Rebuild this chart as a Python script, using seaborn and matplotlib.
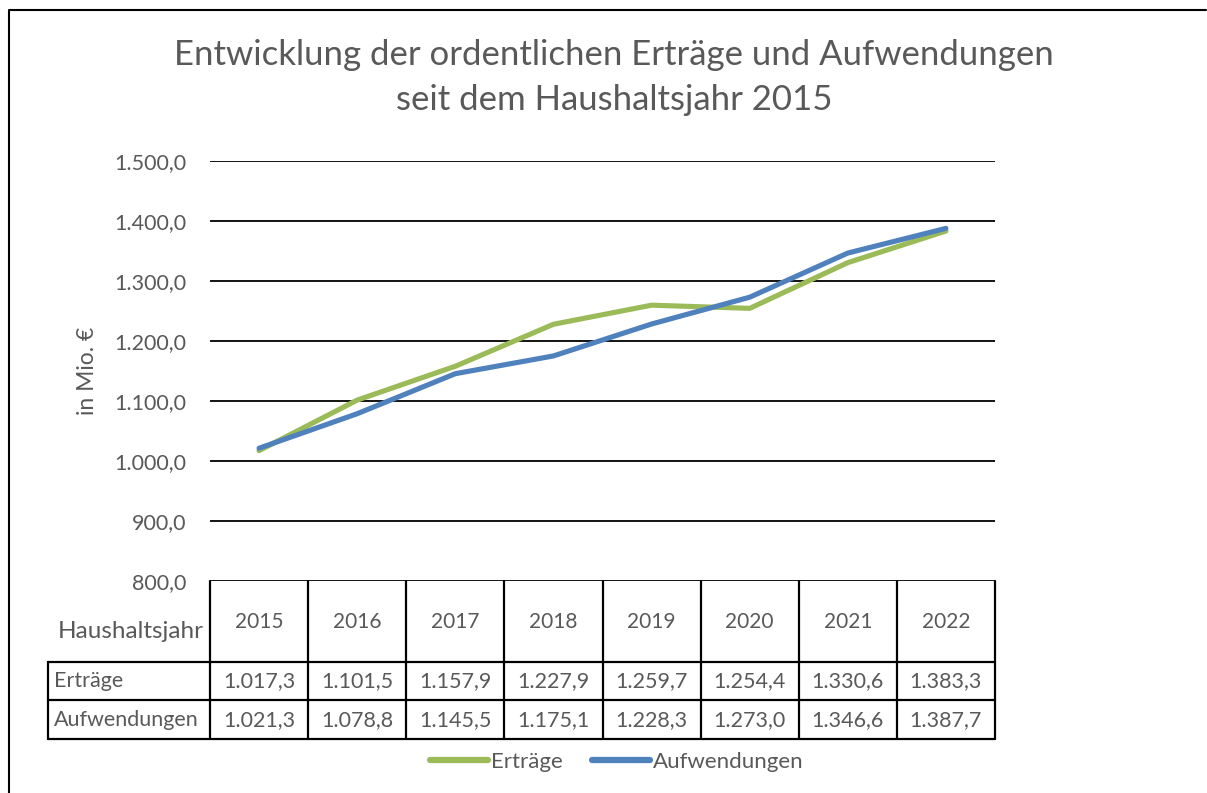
import pandas as pd
import matplotlib.pyplot as plt
import seaborn as sns
from matplotlib.lines import Line2D
from matplotlib.transforms import blended_transform_factory

years = ["2015", "2016", "2017", "2018", "2019", "2020", "2021", "2022"]
ertraege = [1017.3, 1101.5, 1157.9, 1227.9, 1259.7, 1254.4, 1330.6, 1383.3]
aufwendungen = [1021.3, 1078.8, 1145.5, 1175.1, 1228.3, 1273.0, 1346.6, 1387.7]
series_names = ["Erträge", "Aufwendungen"]
series_colors = {"Erträge": "#9BBB59", "Aufwendungen": "#4F81BD"}
y_ticks = [800, 900, 1000, 1100, 1200, 1300, 1400, 1500]

TEXT = "#595959"
W, H = 1207, 793
FS = 15.5


def de_fmt(v):
    # German number format: 1.017,3
    return f"{v:,.1f}".replace(",", "X").replace(".", ",").replace("X", ".")


sns.set_theme(style="white")
plt.rcParams['font.family'] = ['Lato', 'DejaVu Sans']

# long format for seaborn
df = pd.DataFrame({
    "pos": list(range(len(years))) * 2,
    "Wert": ertraege + aufwendungen,
    "Reihe": [series_names[0]] * len(years) + [series_names[1]] * len(years),
})

fig = plt.figure(figsize=(W / 100, H / 100), dpi=100)
ax = fig.add_axes([210 / W, 1 - 581 / H, (995 - 210) / W, (581 - 161) / H])

sns.lineplot(data=df, x="pos", y="Wert", hue="Reihe", hue_order=series_names,
             palette=series_colors, linewidth=3.7, ax=ax, legend=False)
for ln in ax.get_lines():
    ln.set_solid_capstyle("round")

ax.set_xlim(-0.5, len(years) - 0.5)
ax.set_ylim(y_ticks[0], y_ticks[-1])
ax.set_yticks(y_ticks)
ax.set_yticklabels([de_fmt(t) for t in y_ticks], color=TEXT, fontsize=FS)
ax.tick_params(axis="y", length=0, pad=17)
ax.set_xticks([])
ax.set_xlabel("")
ax.set_ylabel("in Mio. €", color=TEXT, fontsize=16.5, labelpad=12)
for t in y_ticks:
    ax.axhline(t, color="black", lw=1.3, zorder=0)
for s in ax.spines.values():
    s.set_visible(False)

# title
fig.text(614 / W, 1 - 55 / H, "Entwicklung der ordentlichen Erträge und Aufwendungen",
         ha="center", va="center", fontsize=25, color=TEXT)
fig.text(614 / W, 1 - 100 / H, "seit dem Haushaltsjahr 2015",
         ha="center", va="center", fontsize=25, color=TEXT)

# data table below the axis
tr = blended_transform_factory(ax.transData, fig.transFigure)
fy = lambda px: 1 - px / H
x_left = -0.5 - (210 - 48) / ((995 - 210) / len(years))
x_right = len(years) - 0.5
line_kw = dict(color="black", lw=1.6, transform=tr, clip_on=False)

for i in range(len(years) + 1):
    ax.plot([i - 0.5, i - 0.5], [fy(581), fy(739)], **line_kw)
ax.plot([x_left, x_left], [fy(662), fy(739)], **line_kw)
for yy in [662, 700, 739]:
    ax.plot([x_left, x_right], [fy(yy), fy(yy)], **line_kw)

for i, yr in enumerate(years):
    ax.text(i, fy(622), yr, ha="center", va="center", fontsize=15, color=TEXT, transform=tr)
    ax.text(i, fy(681), de_fmt(ertraege[i]), ha="center", va="center", fontsize=FS,
            color=TEXT, transform=tr)
    ax.text(i, fy(720), de_fmt(aufwendungen[i]), ha="center", va="center", fontsize=FS,
            color=TEXT, transform=tr)

fig.text(204 / W, fy(631), "Haushaltsjahr", ha="right", va="center", fontsize=17.5, color=TEXT)
fig.text(54 / W, fy(681), series_names[0], ha="left", va="center", fontsize=FS, color=TEXT)
fig.text(54 / W, fy(720), series_names[1], ha="left", va="center", fontsize=FS, color=TEXT)

# legend
handles = [Line2D([], [], color=series_colors[n], lw=4.5, solid_capstyle="round") for n in series_names]
leg = fig.legend(handles, series_names, loc="center", bbox_to_anchor=(617 / W, fy(762)),
                 ncol=2, frameon=False, fontsize=16, handlelength=2.6,
                 handletextpad=0.15, columnspacing=1.3)
for t in leg.get_texts():
    t.set_color(TEXT)

# chart frame (left and top edges visible)
fig.add_artist(Line2D([9 / W, 9 / W, 1206 / W], [0, fy(10), fy(10)],
                      color="black", lw=1.5, transform=fig.transFigure))

fig.savefig("out.png", dpi=100)
